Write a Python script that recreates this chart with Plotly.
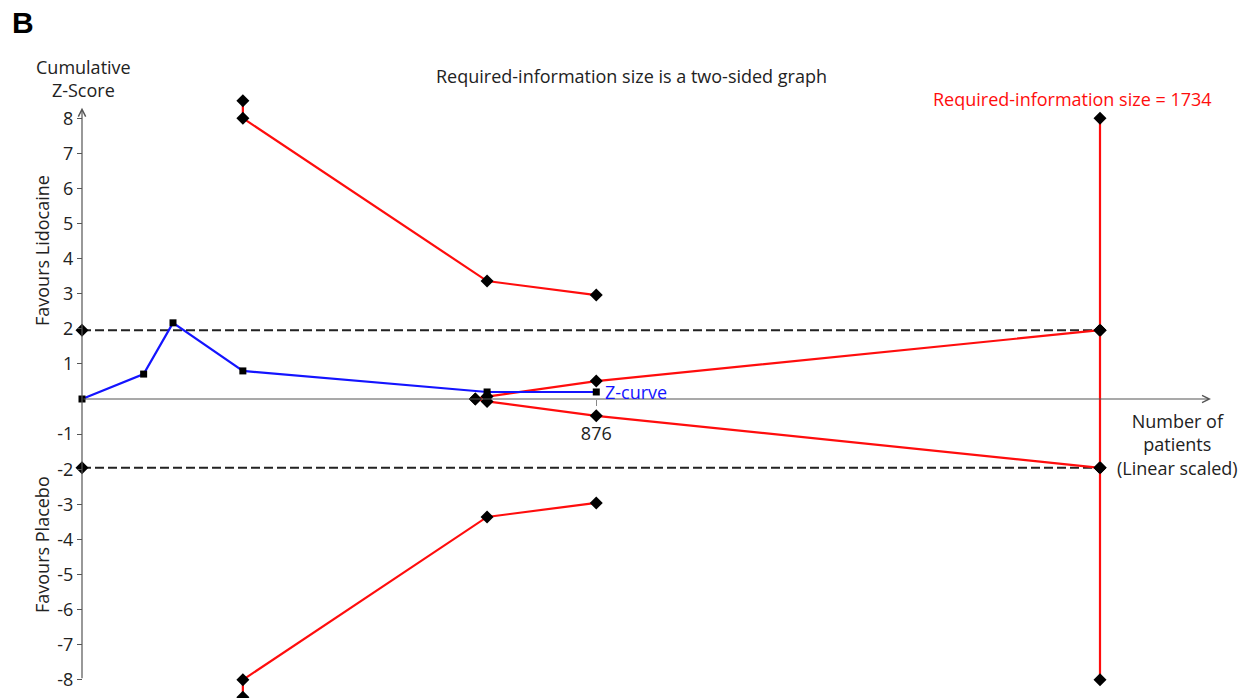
import plotly.graph_objects as go

# Cumulative number of patients at each analysis and cumulative Z-score
patients = [0, 105, 155, 274, 690, 876]
z_curve = [0, 0.71, 2.17, 0.80, 0.20, 0.20]

# Trial sequential monitoring (efficacy) boundaries
eff_x = [274, 274, 690, 876]
eff_upper = [8.5, 8.0, 3.36, 2.96]
eff_lower = [-8.5, -8.0, -3.36, -2.96]

# Futility (inner wedge) boundaries
fut_x = [670, 690, 876, 1734]
fut_upper = [0, 0.07, 0.51, 1.96]
fut_lower = [0, -0.07, -0.48, -1.96]

# Required information size and conventional significance limits
ris = 1734
ris_z = [8, 1.96, -1.96, -8]
conv_x = [0, 1734]
conv_z = 1.96

y_ticks = [8, 7, 6, 5, 4, 3, 2, 1, -1, -2, -3, -4, -5, -6, -7, -8]
x_ticks = [876]

W, H = 1248, 698
FONT = "Open Sans"
FS = 18
RED = "#ff0d0d"
BLUE = "#1414ff"
TXT = "#222"

fig = go.Figure()

diamond = dict(symbol="diamond", size=10, color="black")

# conventional boundaries (dashed)
for s in (1, -1):
    fig.add_trace(go.Scatter(
        x=conv_x, y=[s * conv_z] * len(conv_x), mode="lines+markers",
        line=dict(color="#222", width=2, dash="9px,4px"),
        marker=diamond, cliponaxis=False, hoverinfo="skip"))

# efficacy boundaries
for ys in (eff_upper, eff_lower):
    fig.add_trace(go.Scatter(
        x=eff_x, y=ys, mode="lines+markers",
        line=dict(color=RED, width=2.2), marker=diamond, cliponaxis=False))

# futility wedge
for ys in (fut_upper, fut_lower):
    fig.add_trace(go.Scatter(
        x=fut_x, y=ys, mode="lines+markers",
        line=dict(color=RED, width=2.2), marker=diamond, cliponaxis=False))

# required information size
fig.add_trace(go.Scatter(
    x=[ris] * len(ris_z), y=ris_z, mode="lines+markers",
    line=dict(color=RED, width=2.2), marker=diamond, cliponaxis=False))

# Z-curve
fig.add_trace(go.Scatter(
    x=patients, y=z_curve, mode="lines+markers",
    line=dict(color=BLUE, width=2.2),
    marker=dict(symbol="square", size=7, color="black"),
    cliponaxis=False))

# pixel scale: x=0 at px 82, x=1734 at px 1100; z=0 at px 399, 35.1 px per unit
px_per_pat = (1100 - 82) / 1734
px_per_z = 35.1
x_range = [-82 / px_per_pat, (W - 82) / px_per_pat]
y_range = [-(H - 399) / px_per_z, 399 / px_per_z]

axis_font = dict(family=FONT, size=FS, color=TXT)

fig.update_layout(
    width=W, height=H, margin=dict(l=0, r=0, t=0, b=0),
    paper_bgcolor="white", plot_bgcolor="white", showlegend=False,
    font=dict(family=FONT, size=FS, color=TXT),
    xaxis=dict(range=x_range, domain=[0, 1], anchor="free",
               position=(H - 399) / H, showgrid=False, zeroline=False,
               showline=False, tickmode="array", tickvals=x_ticks,
               ticktext=[str(v) for v in x_ticks], ticks="outside",
               ticklen=6, tickcolor="#888", tickwidth=1,
               ticklabelstandoff=12, tickfont=axis_font),
    yaxis=dict(range=y_range, domain=[0, 1], anchor="free",
               position=82 / W, showgrid=False, zeroline=False,
               showline=False, tickmode="array", tickvals=y_ticks,
               ticktext=[str(v) for v in y_ticks], ticks="outside",
               ticklen=5, tickcolor="#555", tickwidth=1,
               tickfont=axis_font),
)

# axis lines with open arrow heads
fig.add_annotation(x=0, y=8.3, ax=0, ay=-8, xref="x", yref="y",
                   axref="x", ayref="y", text="", showarrow=True,
                   arrowhead=5, arrowsize=1.2, arrowwidth=1.2,
                   arrowcolor="#555")
fig.add_annotation(x=1923, y=0, ax=0, ay=0, xref="x", yref="y",
                   axref="x", ayref="y", text="", showarrow=True,
                   arrowhead=5, arrowsize=1.2, arrowwidth=1.2,
                   arrowcolor="#555")

def px_text(text, x, y, size=FS, color=TXT, family=FONT, **kw):
    fig.add_annotation(x=x / W, y=1 - y / H, xref="paper", yref="paper",
                       xanchor="center", yanchor="middle",
                       text=text, showarrow=False,
                       font=dict(family=family, size=size, color=color), **kw)

px_text("<b>B</b>", 23, 22, size=30, color="black", family="Liberation Sans")
px_text("Cumulative<br>Z-Score", 83, 78)
px_text("Favours Lidocaine", 42, 251, textangle=-90)
px_text("Favours Placebo", 42, 545, textangle=-90)
px_text("Required-information size is a two-sided graph", 631, 76)
px_text("Required-information size = 1734", 1072, 99, color=RED)
px_text("Number of<br>patients<br>(Linear scaled)", 1177, 445)
fig.add_annotation(x=patients[-1], y=z_curve[-1], xref="x", yref="y",
                   text="Z-curve", showarrow=False, xanchor="left",
                   yanchor="middle", xshift=7,
                   font=dict(family=FONT, size=FS, color=BLUE))

fig.write_html("out.html")
